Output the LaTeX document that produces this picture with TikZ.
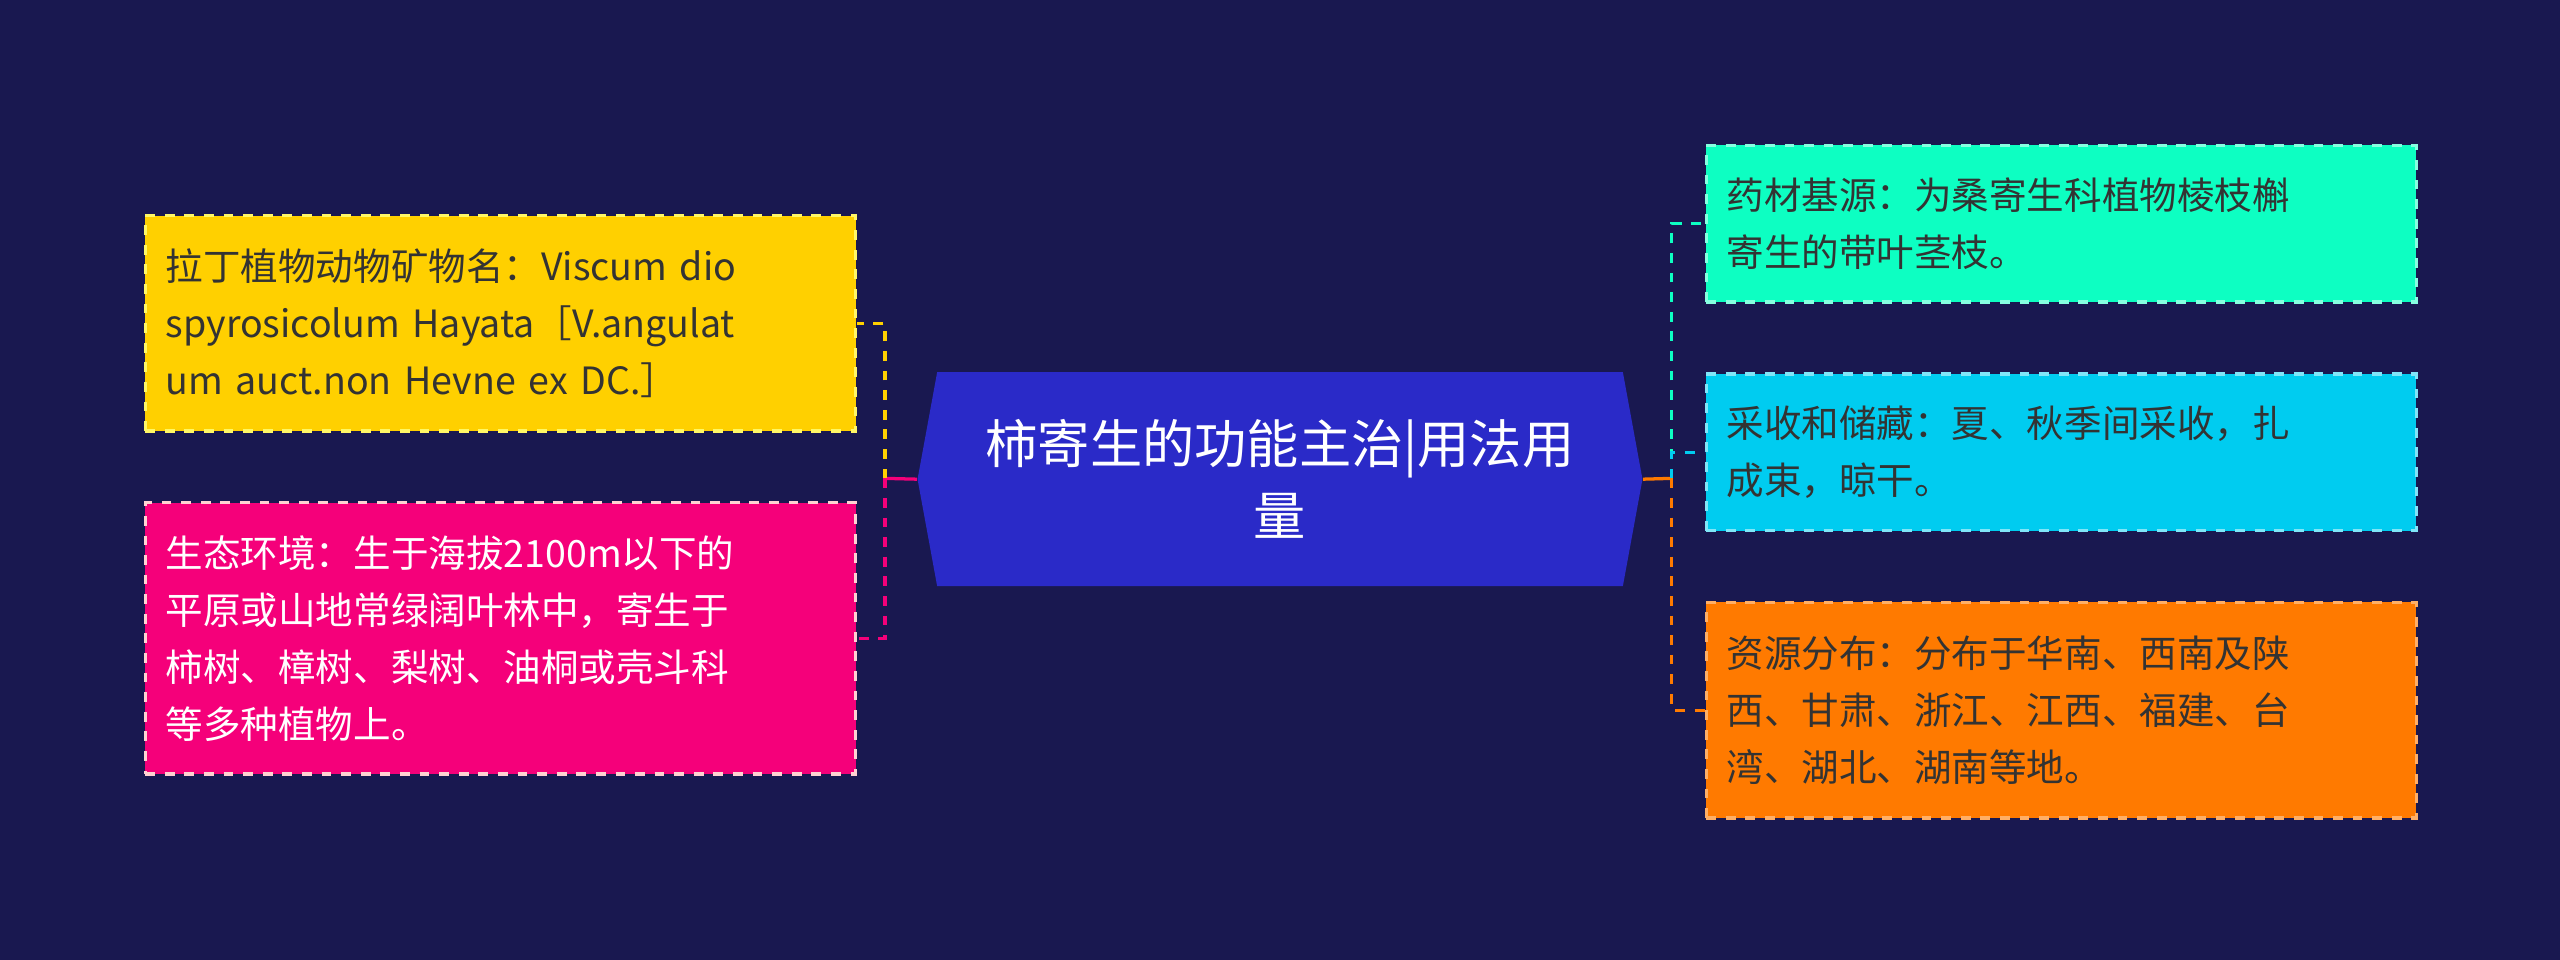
\documentclass[tikz,border=0pt]{standalone}
\usepackage{fontspec}
\setmainfont{Noto Sans CJK SC}
\definecolor{bg}{HTML}{191850}
\definecolor{ctr}{HTML}{2A2AC8}
\definecolor{cyel}{HTML}{FFD000}
\definecolor{cpink}{HTML}{F5007A}
\definecolor{cteal}{HTML}{0DFFC2}
\definecolor{ccyan}{HTML}{00CCF0}
\definecolor{corg}{HTML}{FF7A00}
\definecolor{dtext}{HTML}{333333}
\tikzset{
  box/.style={rectangle,draw,dashed,line width=1pt,minimum width=217.5pt,text width=205pt,align=left,inner sep=6pt,font=\fontsize{11.5}{17.5}\selectfont,anchor=north west},
  link/.style={line width=1pt},
  dlink/.style={line width=1pt,dashed}
}
\begin{document}
\begin{tikzpicture}[x=0.5pt,y=-0.5pt]
\fill[bg] (0,0) rectangle (1568,588);
\useasboundingbox (0,0) rectangle (1568,588);
\fill[ctr] (562,293.5) -- (574,228) -- (994,228) -- (1006,293.5) -- (994,359) -- (574,359) -- cycle;
\node[minimum width=222pt,minimum height=65.5pt,inner sep=0pt,text=white,align=center,font=\fontsize{16}{22}\selectfont] (c) at (784,293.5) {柿寄生的功能主治|用法用\\量};
\node[box,fill=cyel,draw=yellow!60!white,text=dtext,minimum height=66pt] (l1) at (88,131) {拉丁植物动物矿物名：Viscum dio\\spyrosicolum Hayata［V.angulat\\um auct.non Hevne ex DC.］};
\node[box,fill=cpink,draw=pink!70!white,text=white,minimum height=83pt] (l2) at (88,307) {生态环境：生于海拔2100m以下的\\平原或山地常绿阔叶林中，寄生于\\柿树、樟树、梨树、油桐或壳斗科\\等多种植物上。};
\node[box,fill=cteal,draw=cteal!50!white,text=dtext,minimum height=48pt] (r1) at (1044,88) {药材基源：为桑寄生科植物棱枝槲\\寄生的带叶茎枝。};
\node[box,fill=ccyan,draw=ccyan!50!white,text=dtext,minimum height=48pt] (r2) at (1044,228) {采收和储藏：夏、秋季间采收，扎\\成束，晾干。};
\node[box,fill=corg,draw=corg!60!white,text=dtext,minimum height=66pt] (r3) at (1044,368) {资源分布：分布于华南、西南及陕\\西、甘肃、浙江、江西、福建、台\\湾、湖北、湖南等地。};
\coordinate (lj) at (542,293);
\coordinate (rj) at (1024,293);
\draw[link,color=cpink] (c.west) -- (lj);
\draw[dlink,color=cyel] (lj) |- (l1.east);
\draw[dlink,color=cpink] (lj) |- (l2.east);
\draw[link,color=corg] (c.east) -- (rj);
\draw[dlink,color=cteal] (rj) |- (r1.west);
\draw[dlink,color=ccyan] (rj) |- (r2.west);
\draw[dlink,color=corg] (rj) |- (r3.west);
\end{tikzpicture}
\end{document}
